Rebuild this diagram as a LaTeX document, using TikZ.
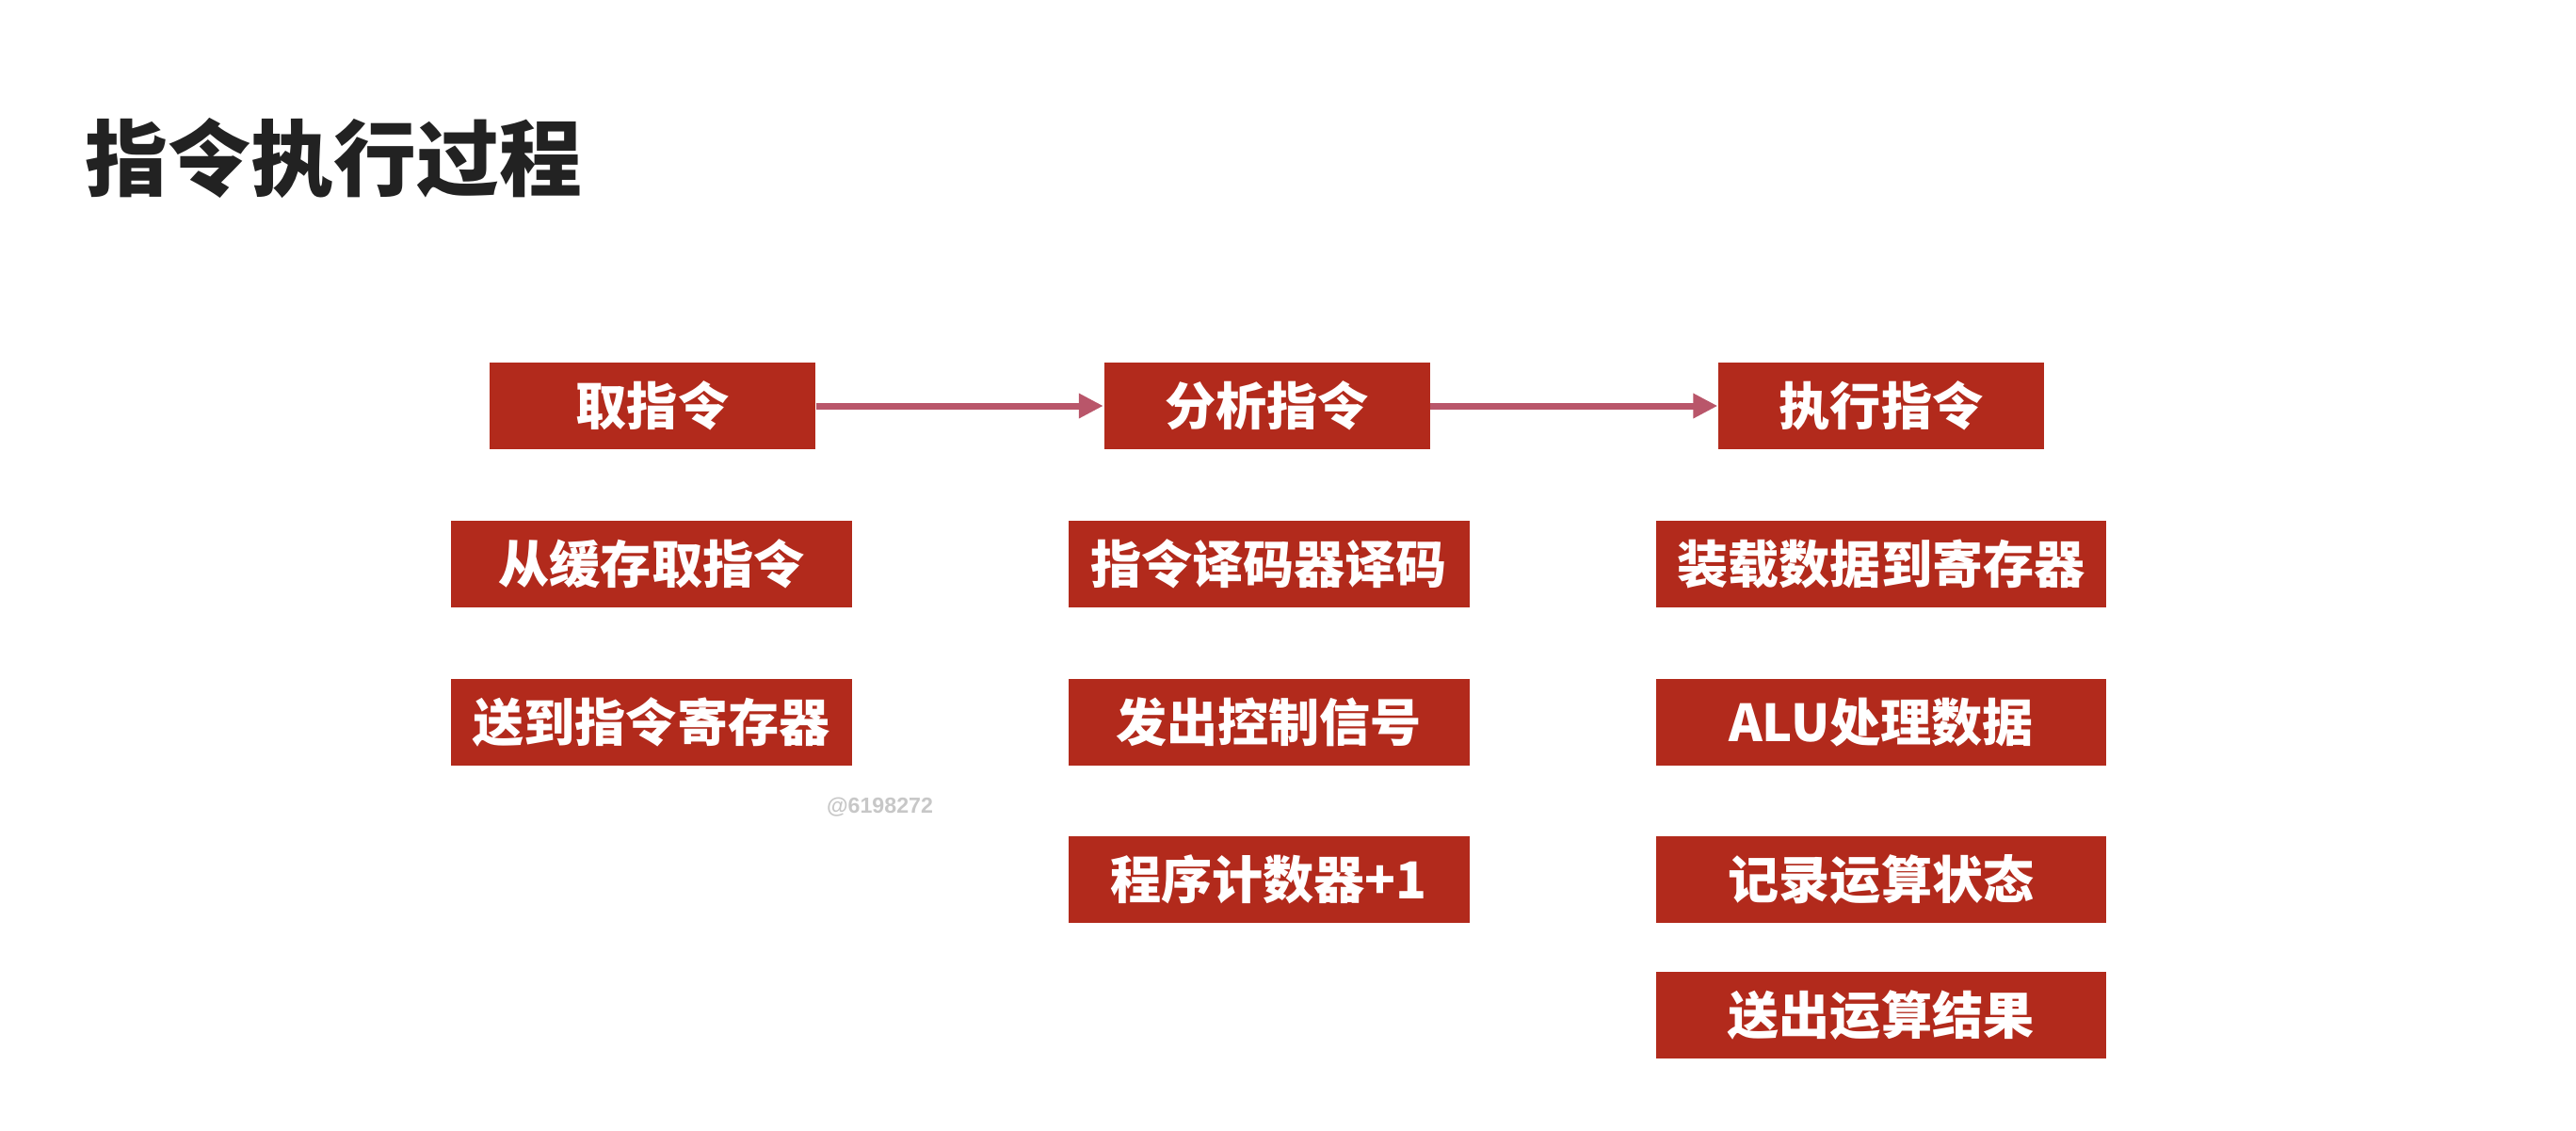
\documentclass[tikz,border=0pt]{standalone}
\usepackage{fontspec}
\setmainfont{Noto Sans CJK SC}
\newfontfamily\markfont{Liberation Sans}
\usetikzlibrary{arrows.meta}
\definecolor{boxred}{HTML}{B22A1C}
\definecolor{arrowrose}{HTML}{B9566A}
\definecolor{titlegray}{HTML}{222222}
\begin{document}
\begin{tikzpicture}[
  phase/.style={fill=boxred, text=white, font=\fontsize{15.4pt}{16pt}\bfseries, inner sep=0pt, minimum width=3.46cm, minimum height=0.92cm},
  substep/.style={phase, minimum width=4.26cm},
  widestep/.style={phase, minimum width=4.78cm},
  flow/.style={-{Triangle[length=0.26cm, width=0.25cm]}, line width=0.07cm, arrowrose}
]
\useasboundingbox (0,0) rectangle (27.36,-12);
\node[anchor=west, text=titlegray, font=\fontsize{25pt}{28pt}\bfseries, inner sep=0pt] (title) at (0.90,-1.68) {指令执行过程};
\node[phase] (fetch) at (6.93, -4.31) {取指令};
\node[phase] (decode) at (13.455, -4.31) {分析指令};
\node[phase] (exec) at (19.98, -4.31) {执行指令};
\node[substep] (f1) at (6.92, -5.99) {从缓存取指令};
\node[substep] (f2) at (6.92, -7.67) {送到指令寄存器};
\node[substep] (d1) at (13.475, -5.99) {指令译码器译码};
\node[substep] (d2) at (13.475, -7.67) {发出控制信号};
\node[substep] (d3) at (13.475, -9.34) {程序计数器+1};
\node[widestep] (e1) at (19.98, -5.99) {装载数据到寄存器};
\node[widestep] (e2) at (19.98, -7.67) {ALU处理数据};
\node[widestep] (e3) at (19.98, -9.34) {记录运算状态};
\node[widestep] (e4) at (19.98, -10.78) {送出运算结果};
\node[text=black!22, font=\markfont\fontsize{6.6pt}{7pt}\bfseries, inner sep=0pt] (mark) at (9.345, -8.57) {@6198272};
\draw[flow] (fetch) -- (decode);
\draw[flow] (decode) -- (exec);
\end{tikzpicture}
\end{document}
